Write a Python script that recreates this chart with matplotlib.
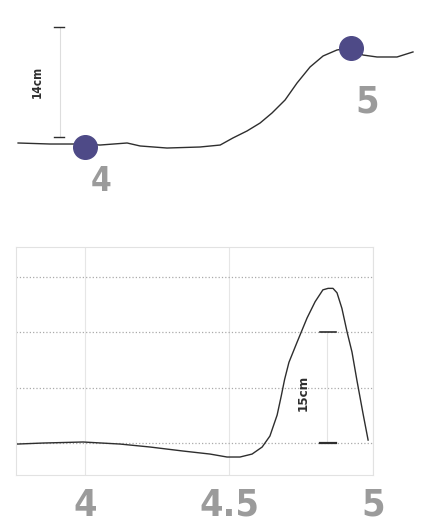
import matplotlib
matplotlib.use("Agg")
import matplotlib.pyplot as plt

# top panel: stroke position (cycle) vs height in cm
top_x = [3.748, 3.868, 3.992, 4.056, 4.158, 4.207, 4.308, 4.432, 4.508, 4.556,
         4.609, 4.658, 4.703, 4.752, 4.797, 4.846, 4.895, 4.947, 4.996, 5.045,
         5.098, 5.173, 5.233]
top_y = [0.51, 0.38, 0.38, 0.25, 0.51, 0.13, -0.13, 0.0, 0.25, 1.15,
         2.04, 3.05, 4.33, 5.98, 8.14, 10.18, 11.58, 12.34, 12.6, 11.7,
         11.45, 11.45, 12.09]
dot_x = [4.0, 5.0]
dot_y = [0.0, 12.6]
dot_labels = ["4", "5"]

# bottom panel
bot_x = [3.764, 3.854, 3.993, 4.122, 4.226, 4.340, 4.434, 4.493, 4.538, 4.580,
         4.615, 4.642, 4.667, 4.681, 4.693, 4.708, 4.736, 4.771, 4.799, 4.826,
         4.844, 4.861, 4.875, 4.892, 4.910, 4.927, 4.944, 4.965, 4.983]
bot_y = [-0.14, 0.0, 0.14, -0.14, -0.54, -1.08, -1.49, -1.89, -1.89, -1.49,
         -0.54, 0.95, 3.78, 6.3, 8.6, 10.9, 13.6, 16.9, 19.1, 20.7,
         20.9, 20.9, 20.3, 18.2, 15.0, 12.3, 8.5, 4.05, 0.4]
xticks = [4, 4.5, 5]
xtick_labels = ["4", "4.5", "5"]
grid_y = [0, 7.5, 15, 22.5]

narrow = dict(family="DejaVu Sans", stretch="condensed", fontweight="bold")
grey = "#9b9b9b"
ink = "#2e2e2e"

fig = plt.figure(figsize=(4.26, 5.27), dpi=100)

# ---- top ----
ax1 = fig.add_axes([0, 312 / 527, 1, 215 / 527])
ax1.set_xlim(3.680, 5.282)
ax1.set_ylim(-8.65, 18.70)
ax1.axis("off")
ax1.plot(top_x, top_y, color=ink, lw=1.0, solid_joinstyle="round")
ax1.plot(dot_x, dot_y, "o", color="#4e4a87", markersize=17, zorder=3)
ax1.text(4.06, -2.3, dot_labels[0], color=grey, fontsize=24,
         ha="center", va="top", **narrow)
ax1.text(5.06, 7.9, dot_labels[1], color=grey, fontsize=27,
         ha="center", va="top", **narrow)
# 14cm scale bar
ax1.plot([3.906, 3.906], [1.27, 15.27], color="#dddddd", lw=0.8)
ax1.plot([3.883, 3.921], [15.27, 15.27], color=ink, lw=1.0)
ax1.plot([3.883, 3.921], [1.27, 1.27], color=ink, lw=1.0)
ax1.text(3.820, 8.27, "14cm", rotation=90, color=ink, fontsize=8.5,
         ha="center", va="center", **narrow)

# ---- bottom ----
ax2 = fig.add_axes([16 / 426, 52 / 527, 357 / 426, 228 / 527])
ax2.set_xlim(3.76, 5.0)
ax2.set_ylim(-4.32, 26.49)
for s in ax2.spines.values():
    s.set_color("#e2e2e2")
    s.set_linewidth(0.8)
ax2.set_yticks(grid_y)
ax2.set_yticklabels([])
ax2.set_xticks(xticks)
ax2.set_xticklabels(xtick_labels, color=grey, fontsize=27, **narrow)
ax2.tick_params(length=0, pad=9)
ax2.grid(axis="y", linestyle=":", color="#aaaaaa", lw=0.9)
ax2.grid(axis="x", linestyle="-", color="#e6e6e6", lw=0.8)
ax2.plot(bot_x, bot_y, color=ink, lw=1.0, solid_joinstyle="round")
# 15cm scale bar
ax2.plot([4.840, 4.840], [0, 15], color="#e4e4e4", lw=0.8)
ax2.plot([4.816, 4.872], [15, 15], color=ink, lw=1.2)
ax2.plot([4.816, 4.872], [0, 0], color=ink, lw=1.6)
ax2.text(4.757, 6.8, "15cm", rotation=90, color=ink, fontsize=9.5,
         ha="center", va="center", **narrow)

fig.savefig("out.png", dpi=100)
